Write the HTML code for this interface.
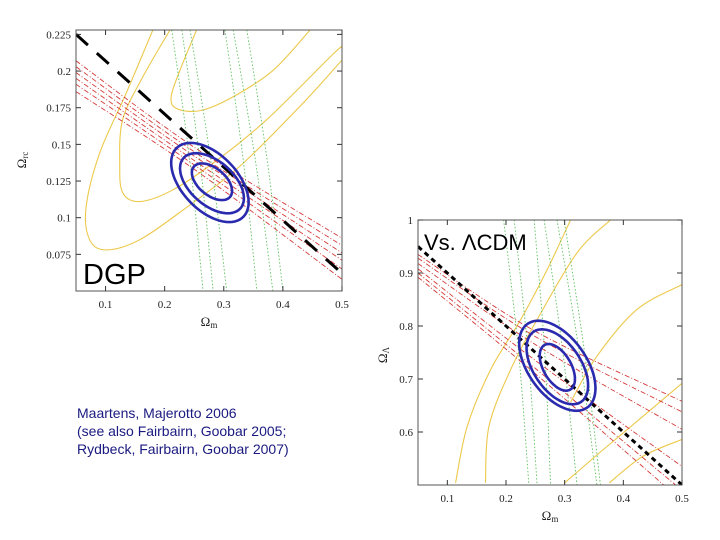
<!DOCTYPE html>
<html><head><meta charset="utf-8"><style>
body{margin:0;background:#fff;}
#wrap{position:relative;width:720px;height:540px;overflow:hidden;font-family:"Liberation Sans",sans-serif;}
.note{position:absolute;left:77px;top:404px;font-size:14px;line-height:18px;color:#1a1a80;}
</style></head><body>
<div id="wrap">
<svg id="svg" width="720" height="540"></svg>
<div class="note">Maartens, Majerotto 2006<br>(see also Fairbairn, Goobar 2005;<br>Rydbeck, Fairbairn, Goobar 2007)</div>
</div>
<script>
// ---- Left (DGP) chart data ----
const L_xTicks=[0.1,0.2,0.3,0.4,0.5];
const L_yTicks=[0.075,0.1,0.125,0.15,0.175,0.2,0.225];
const L_yTickLabels=["0.075","0.1","0.125","0.15","0.175","0.2","0.225"];
const L_black=[[0.05,0.225],[0.5,0.062]];
const L_redX=[0.05,0.25,0.5];
const L_redY=[[0.207,0.148,0.086],[0.203,0.145,0.081],[0.199,0.142,0.076],[0.195,0.139,0.071],[0.191,0.136,0.065],[0.186,0.133,0.058]];
const L_greenTop=[0.212,0.229,0.243,0.302,0.316,0.339];
const L_greenBot=[0.265,0.282,0.305,0.356,0.383,0.40];
const L_yellow=[
 [[0.254,0.228],[0.226,0.2007],[0.211,0.1825],[0.220,0.1745],[0.260,0.173],[0.316,0.1825],[0.384,0.2007],[0.446,0.228]],
 [[0.209,0.228],[0.163,0.196],[0.129,0.167],[0.124,0.137],[0.129,0.117],[0.158,0.111],[0.214,0.119],[0.288,0.139],[0.373,0.167],[0.486,0.212],[0.5,0.216]],
 [[0.180,0.228],[0.135,0.185],[0.090,0.144],[0.067,0.107],[0.073,0.085],[0.101,0.078],[0.158,0.085],[0.237,0.107],[0.327,0.135],[0.429,0.176],[0.5,0.2075]]];
const L_blueC=[[0.280,0.1245],[0.280,0.1235],[0.2765,0.124]];
const L_blueA=[0.034,0.054,0.0655];
const L_blueB=[0.0125,0.0205,0.027];
// ---- Right (LCDM) chart data ----
const R_xTicks=[0.1,0.2,0.3,0.4,0.5];
const R_yTicks=[0.6,0.7,0.8,0.9,1];
const R_yTickLabels=["0.6","0.7","0.8","0.9","1"];
const R_black=[[0.05,0.95],[0.5,0.5]];
const R_redX=[0.05,0.25,0.5];
const R_redY=[[0.935,0.79,0.658],[0.928,0.78,0.638],[0.918,0.765,0.605],[0.908,0.735,0.535],[0.900,0.72,0.49],[0.892,0.71,0.47]];
const R_greenTop=[0.196,0.214,0.248,0.265,0.287,0.299];
const R_greenBot=[0.239,0.253,0.276,0.321,0.355,0.361];
const R_yellow=[
 [[0.114,0.504],[0.134,0.611],[0.174,0.718],[0.225,0.812],[0.270,0.906],[0.310,1.0]],
 [[0.165,0.504],[0.171,0.611],[0.208,0.718],[0.253,0.812],[0.321,0.938],[0.378,1.0]],
 [[0.300,0.504],[0.366,0.567],[0.434,0.630],[0.5,0.692]],
 [[0.376,0.504],[0.433,0.554],[0.5,0.586]],
 [[0.310,0.656],[0.355,0.743],[0.423,0.831],[0.5,0.878]]];
const R_blueC=[[0.2875,0.722],[0.2875,0.723],[0.2875,0.725]];
const R_blueA=[0.030,0.0525,0.065];
const R_blueB=[0.044,0.0707,0.085];

const NS="http://www.w3.org/2000/svg";
const svg=document.getElementById('svg');
function mk(tag,attrs,parent){const e=document.createElementNS(NS,tag);for(const k in attrs)e.setAttribute(k,attrs[k]);(parent||svg).appendChild(e);return e;}

function chart(o){
 const sx=v=>o.px0+(v-o.x0)/(o.x1-o.x0)*(o.px1-o.px0);
 const sy=v=>o.py0+(v-o.y0)/(o.y1-o.y0)*(o.py1-o.py0);
 const g=mk('g',{});
 
 
 const cid='clip-'+o.name;
 const cp=mk('clipPath',{id:cid},g);
 mk('rect',{x:o.px0,y:o.py1,width:o.px1-o.px0,height:o.py0-o.py1},cp);
 const plot=mk('g',{'clip-path':'url(#'+cid+')'},g);
 const path=pts=>pts.map((p,i)=>(i?'L':'M')+sx(p[0]).toFixed(1)+' '+sy(p[1]).toFixed(1)).join(' ');
 function smooth(pts){let d='M'+sx(pts[0][0])+' '+sy(pts[0][1]);
  for(let i=1;i<pts.length;i++){const p0=pts[Math.max(i-2,0)],p1=pts[i-1],p2=pts[i],p3=pts[Math.min(i+1,pts.length-1)];
   const c1=[sx(p1[0])+(sx(p2[0])-sx(p0[0]))/6,sy(p1[1])+(sy(p2[1])-sy(p0[1]))/6];
   const c2=[sx(p2[0])-(sx(p3[0])-sx(p1[0]))/6,sy(p2[1])-(sy(p3[1])-sy(p1[1]))/6];
   d+=' C'+c1+' '+c2+' '+sx(p2[0])+' '+sy(p2[1]);}
  return d;}
 o.yellow.forEach((c,i)=>{const e=mk('path',{d:smooth(c),fill:'none',stroke:'#ecc94b','stroke-width':1.1},plot);
  
  });
 o.gTop.forEach((t,i)=>{const b=o.gBot[i];
  const pts=[[t,o.y1],[(t+b)/2+0.004,(o.y0+o.y1)/2],[b,o.y0]];
  const e=mk('path',{d:smooth(pts),fill:'none',stroke:'#5cc05c','stroke-width':0.9,'stroke-dasharray':'1.5 2'},plot);
  
  });
 o.redY.forEach((ys,i)=>{const pts=o.redX.map((x,j)=>[x,ys[j]]);
  const e=mk('path',{d:smooth(pts),fill:'none',stroke:'#d43a3a','stroke-width':0.9,'stroke-dasharray':'5 2 1 2'},plot);
  
  });
 const bl=mk('path',{d:path(o.black),fill:'none',stroke:'#000','stroke-width':3,'stroke-dasharray':o.dash},plot);
 
 
 o.bC.forEach((c,i)=>{const pts=[];for(let k=0;k<=72;k++){const t=k/72*2*Math.PI;
   pts.push([c[0]+o.bA[i]*Math.cos(t),c[1]-o.bB[i]*Math.cos(t+1.05)]);}
  const e=mk('path',{d:path(pts)+'Z',fill:'none',stroke:'#2a2aae','stroke-width':2.6},plot);
  
  });
 const fr=mk('rect',{x:o.px0,y:o.py1,width:o.px1-o.px0,height:o.py0-o.py1,fill:'none',stroke:'#555','stroke-width':1},g);
 
 
 o.xT.forEach(v=>{const x=sx(v);
  mk('line',{x1:x,y1:o.py0,x2:x,y2:o.py0-5,stroke:'#333'},g);
  mk('line',{x1:x,y1:o.py1,x2:x,y2:o.py1+5,stroke:'#333'},g);
  const t=mk('text',{x:x,y:o.py0+17,'text-anchor':'middle','font-family':'Liberation Serif,serif','font-size':11,fill:'#222'},g);
  t.textContent=String(v);
  
  });
 o.yT.forEach((v,i)=>{const y=sy(v);
  mk('line',{x1:o.px0,y1:y,x2:o.px0+5,y2:y,stroke:'#333'},g);
  mk('line',{x1:o.px1,y1:y,x2:o.px1-5,y2:y,stroke:'#333'},g);
  const t=mk('text',{x:o.px0-5,y:y+4,'text-anchor':'end','font-family':'Liberation Serif,serif','font-size':11,fill:'#222'},g);
  t.textContent=o.yL[i];
  
  });
 const xt=mk('text',{x:(o.px0+o.px1)/2,y:o.py0+35,'text-anchor':'middle','font-family':'Liberation Serif,serif','font-size':13,fill:'#222'},g);
 xt.innerHTML='Ω<tspan font-size="9" dy="2">m</tspan>';
 
 
 const yt=mk('text',{x:0,y:0,transform:'translate('+o.ytx+','+o.yty+') rotate(-90)','text-anchor':'middle','font-family':'Liberation Serif,serif','font-size':13,fill:'#222'},g);
 yt.innerHTML='Ω<tspan font-size="9" dy="2">'+o.ysub+'</tspan>';
 
 
 const lb=mk('text',{x:o.lx,y:o.ly,'font-family':'Liberation Sans,sans-serif','font-size':o.lsize,fill:'#000'},g);
 lb.textContent=o.label;
 
 
}
chart({name:'dgp-chart',x0:0.05,x1:0.5,y0:0.05,y1:0.228,px0:76,px1:342,py0:291,py1:30,
 xT:L_xTicks,yT:L_yTicks,yL:L_yTickLabels,black:L_black,redX:L_redX,redY:L_redY,gTop:L_greenTop,gBot:L_greenBot,
 yellow:L_yellow,bC:L_blueC,bA:L_blueA,bB:L_blueB,dash:'16 12',ytx:26,yty:160,ysub:'rc',label:'DGP',lx:83,ly:284,lsize:29});
chart({name:'lcdm-chart',x0:0.05,x1:0.5,y0:0.5,y1:1,px0:418,px1:682,py0:485,py1:220,
 xT:R_xTicks,yT:R_yTicks,yL:R_yTickLabels,black:R_black,redX:R_redX,redY:R_redY,gTop:R_greenTop,gBot:R_greenBot,
 yellow:R_yellow,bC:R_blueC,bA:R_blueA,bB:R_blueB,dash:'5 4',ytx:387,yty:355,ysub:'Λ',label:'Vs. ΛCDM',lx:424,ly:250,lsize:22});
</script>
</body></html>
